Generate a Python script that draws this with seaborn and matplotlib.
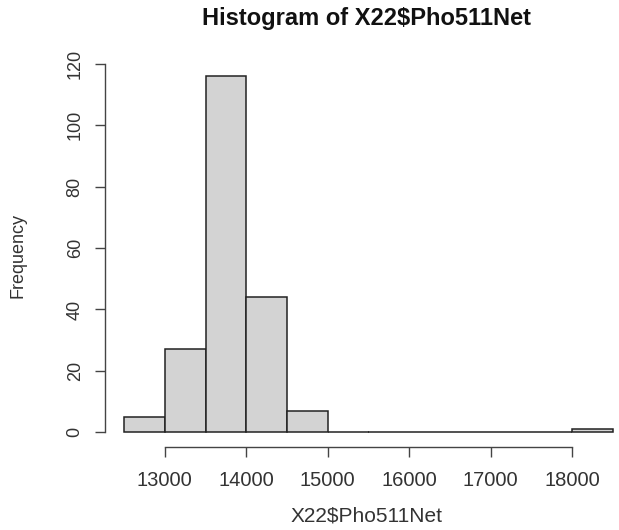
import numpy as np
import pandas as pd
import matplotlib
matplotlib.use("Agg")
import matplotlib.pyplot as plt
import seaborn as sns

# Histogram bins (500-wide) and their counts
bin_edges = [12500, 13000, 13500, 14000, 14500, 15000, 15500, 16000,
             16500, 17000, 17500, 18000, 18500]
counts = [5, 27, 116, 44, 7, 0, 0, 0, 0, 0, 0, 1]
x_ticks = [13000, 14000, 15000, 16000, 17000, 18000]
y_ticks = [0, 20, 40, 60, 80, 100, 120]

centers = [(a + b) / 2 for a, b in zip(bin_edges[:-1], bin_edges[1:])]
df = pd.DataFrame({"Pho511Net": centers, "n": counts})

sns.set_style("white")
plt.rcParams["font.family"] = ["Liberation Sans", "DejaVu Sans"]

W, H = 619, 530
fig = plt.figure(figsize=(W / 100, H / 100), dpi=100)
# plot region in pixels
left, right, top, bottom = 104.5, 632.5, 62, 446.5
ax = fig.add_axes([left / W, 1 - bottom / H, (right - left) / W, (bottom - top) / H])

sns.histplot(data=df, x="Pho511Net", weights="n", bins=bin_edges,
             color="#D3D3D3", edgecolor="#222222", linewidth=1.1,
             alpha=1, ax=ax)

xr = bin_edges[-1] - bin_edges[0]
ax.set_xlim(bin_edges[0] - 0.04 * xr, bin_edges[-1] + 0.04 * xr)
ymax = max(counts)
ax.set_ylim(-0.04 * ymax, ymax * 1.04)

for s in ["top", "right"]:
    ax.spines[s].set_visible(False)
for s in ["left", "bottom"]:
    ax.spines[s].set_color("#444444")
    ax.spines[s].set_linewidth(1.0)
ax.spines["left"].set_bounds(y_ticks[0], y_ticks[-1])
ax.spines["bottom"].set_bounds(x_ticks[0], x_ticks[-1])

ax.set_xticks(x_ticks)
ax.set_yticks(y_ticks)
ax.set_xticklabels([str(v) for v in x_ticks])
ax.set_yticklabels([str(v) for v in y_ticks], rotation=90, va="center")
ax.tick_params(axis="both", which="both", direction="out", length=7,
               width=1.0, color="#444444", labelcolor="#333333",
               bottom=True, left=True)
ax.tick_params(axis="x", labelsize=14.5, pad=11)
ax.tick_params(axis="y", labelsize=13, pad=8)

ax.set_xlabel("")
ax.set_ylabel("")
fig.text(367 / W, 1 - 516 / H, "X22\\$Pho511Net", ha="center", va="center",
         fontsize=15, color="#333333")
fig.text(18 / W, 1 - 256 / H, "Frequency", ha="center", va="center",
         rotation=90, fontsize=13, color="#333333")
fig.text(367 / W, 1 - 19 / H, "Histogram of X22\\$Pho511Net", ha="center",
         va="center", fontsize=17, fontweight="bold", color="#111111")

fig.savefig("out.png", dpi=100)
